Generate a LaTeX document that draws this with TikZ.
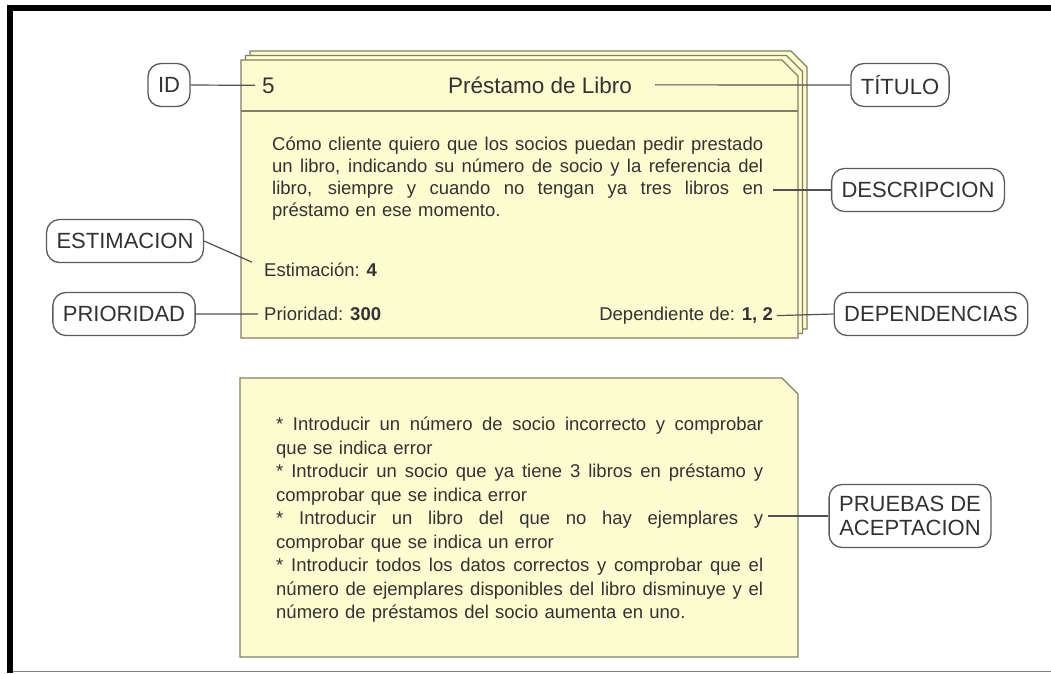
\documentclass[tikz,border=0pt]{standalone}
\usepackage{fontspec}
\setmainfont{Liberation Sans}
\definecolor{cardfill}{RGB}{253,252,208}
\definecolor{cardline}{RGB}{128,128,100}
\definecolor{txt}{RGB}{50,50,50}
\definecolor{bubble}{RGB}{90,90,90}
\definecolor{conn}{RGB}{80,80,80}
\newcommand{\jla}[1]{\makebox[491pt][s]{\spaceskip=0pt\xspaceskip=0pt\relax #1}}
\newcommand{\jlb}[1]{\makebox[487pt][s]{\spaceskip=0pt\xspaceskip=0pt\relax #1}}
\begin{document}
\begin{tikzpicture}[x=1pt,y=-1pt,
  card/.style={fill=cardfill,draw=cardline,line width=1.4pt,line join=miter},
  lbl/.style={draw=bubble,fill=white,rounded corners=13pt,line width=1.3pt,
    font=\fontsize{22}{24}\selectfont,text=txt,inner xsep=10pt,minimum height=43pt},
  ctext/.style={font=\fontsize{18.5}{22}\selectfont,text=txt,inner sep=0pt},
  ttext/.style={font=\fontsize{22.5}{26}\selectfont,text=txt,inner sep=0pt},
  conn/.style={draw=conn,line width=1.2pt}]
\useasboundingbox (0,0) rectangle (1051,673);
% outer frame
\fill[black] (7,5) rectangle (1051,11);
\fill[black] (7,5) rectangle (13,673);
\draw[gray,line width=1pt] (13,671.5) -- (1051,671.5);
% stacked user-story cards
\foreach \s in {9,4.5,0}{
  \begin{scope}[shift={(\s,-\s)}]
    \filldraw[card] (241,60) -- (782,60) -- (798,76) -- (798,338) -- (241,338) -- cycle;
  \end{scope}
}
\draw[cardline,line width=1.4pt] (241,111) -- (798,111);
% acceptance card
\filldraw[card] (240,378) -- (782,378) -- (798,394) -- (798,657) -- (240,657) -- cycle;
% labels
\node[lbl] (id) at (169,85) {ID};
\node[lbl] (titulo) at (900,85) {TÍTULO};
\node[lbl] (descripcion) at (918,190) {DESCRIPCION};
\node[lbl] (estimacion) at (125,241) {ESTIMACION};
\node[lbl] (prioridad) at (124,314) {PRIORIDAD};
\node[lbl] (dependencias) at (931,314) {DEPENDENCIAS};
\node[lbl,align=center,minimum height=63pt] (pruebas) at (910,516) {PRUEBAS DE\\ACEPTACION};
% card texts
\node[ttext,anchor=base west] (num) at (262,93) {5};
\node[ttext,anchor=base] (ttl) at (540,93) {Préstamo de Libro};
\node[ctext,anchor=north west,text width=491pt,align=left] (desc) at (272,137) {%
\jla{Cómo cliente quiero que los socios puedan pedir prestado}\\
\jla{un libro, indicando su número de socio y la referencia del}\\
\jla{libro, siempre y cuando no tengan ya tres libros en}\\
préstamo en ese momento.};
\node[ctext,anchor=base west] (est) at (264,276) {Estimación: \textbf{4}};
\node[ctext,anchor=base west] (prio) at (264,320.5) {Prioridad: \textbf{300}};
\node[ctext,anchor=base east] (dep) at (773,320.5) {Dependiente de: \textbf{1, 2}};
\node[ctext,anchor=north west,text width=487pt,align=left,
  font=\fontsize{18.5}{23.5}\selectfont] (pr) at (276,417) {%
\jlb{* Introducir un número de socio incorrecto y comprobar}\\
que se indica error\\
\jlb{* Introducir un socio que ya tiene 3 libros en préstamo y}\\
comprobar que se indica error\\
\jlb{* Introducir un libro del que no hay ejemplares y}\\
comprobar que se indica un error\\
\jlb{* Introducir todos los datos correctos y comprobar que el}\\
\jlb{número de ejemplares disponibles del libro disminuye y el}\\
número de préstamos del socio aumenta en uno.};
% connectors
\coordinate (descend) at (773,190);
\coordinate (prend) at (768,516);
\draw[conn,shorten >=7pt] (id.east) -- (num.west);
\draw[conn,shorten <=23pt] (ttl.east) -- (titulo.west);
\draw[conn] (descend) -- (descripcion.west);
\draw[conn] (estimacion.east) -- ([xshift=-12pt]est.north west);
\draw[conn,shorten >=6pt] (prioridad.east) -- (prio.west);
\draw[conn,shorten <=4pt] (dep.east) -- (dependencias.west);
\draw[conn] (prend) -- (pruebas.west);
\end{tikzpicture}
\end{document}
